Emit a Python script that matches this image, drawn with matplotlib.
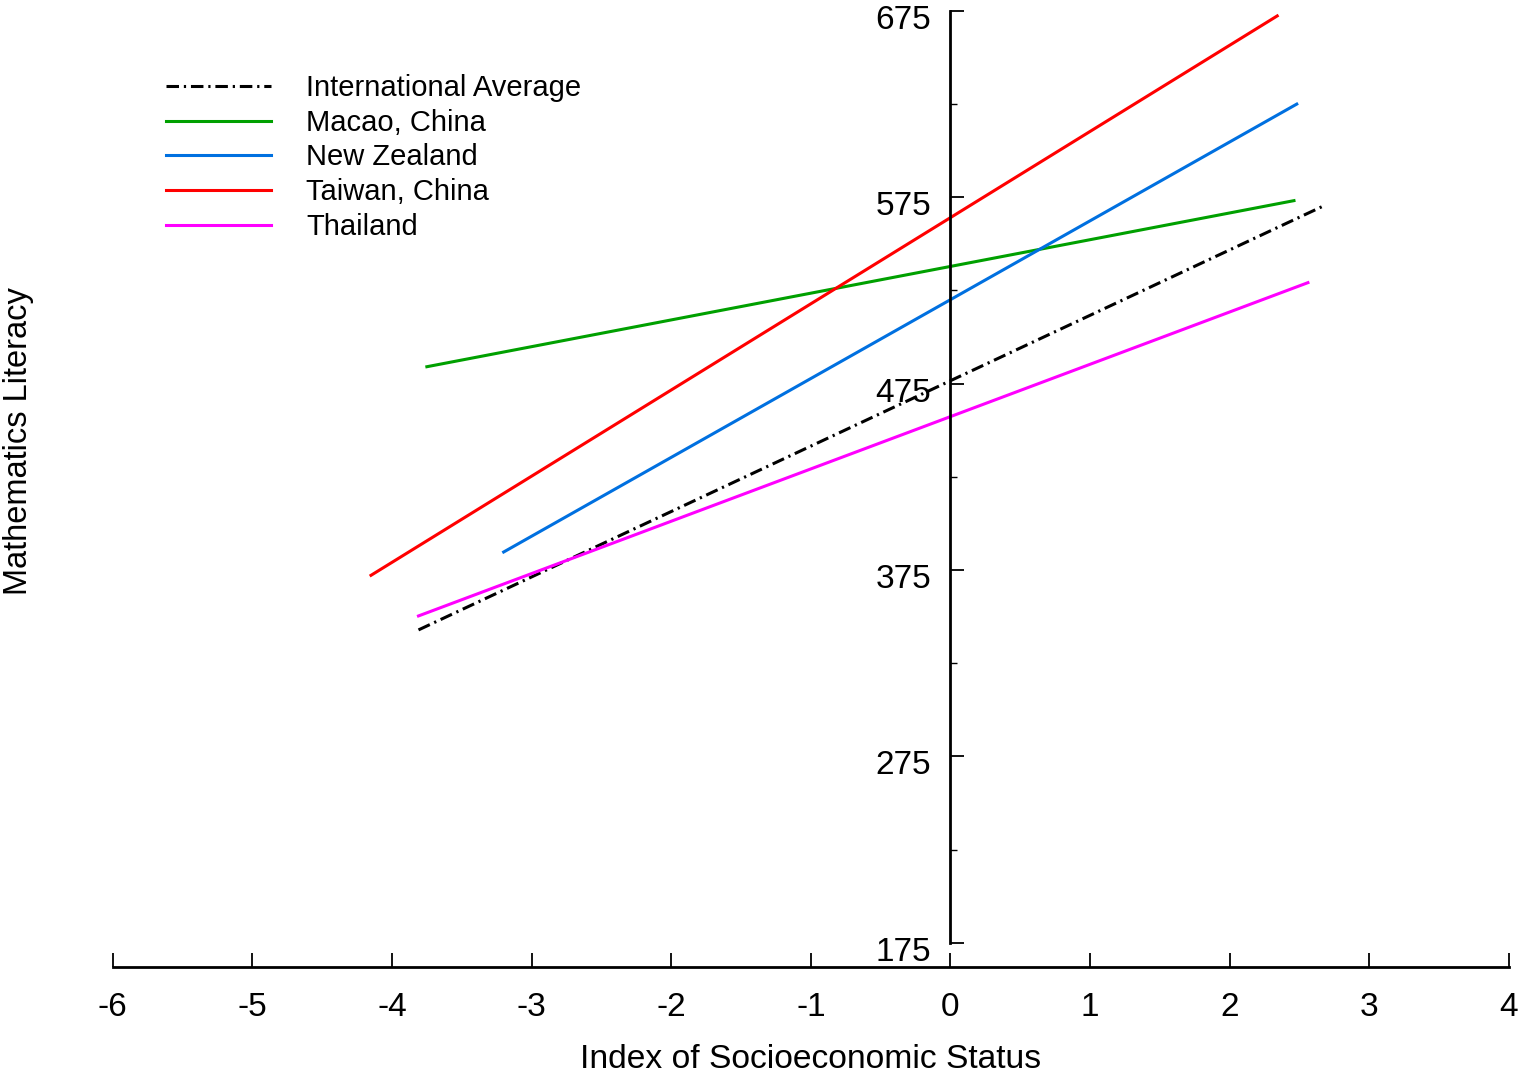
import matplotlib
matplotlib.use("Agg")
import matplotlib.pyplot as plt
import matplotlib.transforms as mtransforms

plt.rcParams['font.family'] = ['Liberation Sans', 'DejaVu Sans']
plt.rcParams['lines.scale_dashes'] = False

# Data: regression line endpoints (x = ESCS index, y = maths score)
series_names = ["International Average", "Macao, China", "New Zealand",
                "Taiwan, China", "Thailand"]
intl_x = [-3.81, 2.67]
intl_y = [342.8, 570.2]
macao_x = [-3.75, 2.46]
macao_y = [484.0, 573.1]
nz_x = [-3.20, 2.48]
nz_y = [384.6, 624.9]
taiwan_x = [-4.15, 2.34]
taiwan_y = [372.1, 672.2]
thai_x = [-3.81, 2.56]
thai_y = [350.3, 529.1]

x_ticks = [-6, -5, -4, -3, -2, -1, 0, 1, 2, 3, 4]
y_ticks = [175, 275, 375, 475, 575, 675]
y_minor = [225, 325, 425, 525, 625]

W, H = 1521, 1075
fig = plt.figure(figsize=(W / 100, H / 100), dpi=100)
left, right = 112.7 / W, 1509 / W
top, bottom = 1 - 10.7 / H, 1 - 942.7 / H
ax = fig.add_axes([left, bottom, right - left, top - bottom])

lw = 2.2
ax.plot(intl_x, intl_y, color='black', lw=lw, linestyle=(0, (9, 3.5, 1.6, 3.5)),
        label=series_names[0])
ax.plot(macao_x, macao_y, color='#00A000', lw=lw, label=series_names[1])
ax.plot(nz_x, nz_y, color='#0070E0', lw=lw, label=series_names[2])
ax.plot(taiwan_x, taiwan_y, color='#FF0000', lw=lw, label=series_names[3])
ax.plot(thai_x, thai_y, color='#FF00FF', lw=lw, label=series_names[4])

ax.set_xlim(-6, 4)
ax.set_ylim(175, 675)

for s in ['top', 'right']:
    ax.spines[s].set_visible(False)
ax.spines['left'].set_position(('data', 0))
ax.spines['bottom'].set_position(('outward', 24 * 0.72))
ax.spines['left'].set_linewidth(2.0)
ax.spines['bottom'].set_linewidth(2.0)

ax.set_xticks(x_ticks)
ax.set_xticklabels([str(v) for v in x_ticks])
ax.set_yticks(y_ticks)
ax.set_yticklabels([str(v) for v in y_ticks])
ax.set_yticks(y_minor, minor=True)
ax.tick_params(axis='y', which='major', direction='in', length=10, width=1.3,
               pad=14, labelsize=24)
ax.tick_params(axis='y', which='minor', direction='in', length=5, width=1.0)
ax.tick_params(axis='x', which='major', direction='in', length=10, width=1.3,
               pad=18.5, labelsize=24)

offset = mtransforms.ScaledTranslation(0, -6 / 100, fig.dpi_scale_trans)
for lab in ax.get_yticklabels():
    lab.set_transform(lab.get_transform() + offset)

fig.text(811 / W, 1 - 1059 / H, "Index of Socioeconomic Status",
         ha='center', va='center', fontsize=24.2)
fig.text(19 / W, 1 - 441 / H, "Mathematics Literacy", rotation=90,
         ha='center', va='center', fontsize=23.5)

leg = ax.legend(loc='upper left', bbox_to_anchor=(166 / W, 1 - 74 / H),
                bbox_transform=fig.transFigure, frameon=False, fontsize=21,
                handlelength=3.6, handletextpad=1.2, labelspacing=0.23,
                borderpad=0, borderaxespad=0)

fig.savefig("out.png", dpi=100)
